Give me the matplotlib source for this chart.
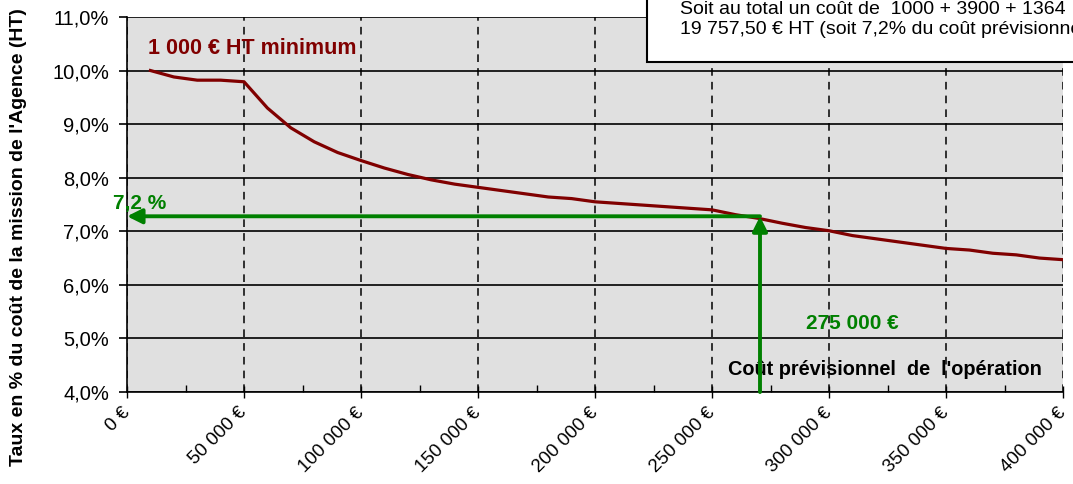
import matplotlib
matplotlib.use("Agg")
import matplotlib.pyplot as plt
from matplotlib.ticker import MultipleLocator, FuncFormatter
from matplotlib.patches import Rectangle

plt.rcParams['font.family'] = ['Liberation Sans', 'DejaVu Sans']

# montant des travaux (€) et taux de la mission (%)
cout = [10000, 20000, 30000, 40000, 50000, 60000, 70000, 80000, 90000, 100000,
        110000, 120000, 130000, 140000, 150000, 160000, 170000, 180000, 190000, 200000,
        210000, 220000, 230000, 240000, 250000, 260000, 270000, 280000, 290000, 300000,
        310000, 320000, 330000, 340000, 350000, 360000, 370000, 380000, 390000, 400000]
taux = [10.00, 9.88, 9.82, 9.82, 9.79, 9.30, 8.93, 8.67, 8.47, 8.32,
        8.18, 8.06, 7.96, 7.88, 7.82, 7.76, 7.70, 7.64, 7.61, 7.55,
        7.52, 7.49, 7.46, 7.43, 7.40, 7.31, 7.24, 7.15, 7.07, 7.01,
        6.92, 6.86, 6.80, 6.74, 6.68, 6.65, 6.59, 6.56, 6.50, 6.47]

# lecture de l'exemple
x_lecture = 270500
y_lecture = 7.28

red = '#800000'
green = '#008000'

fig = plt.figure(figsize=(10.73, 4.84), dpi=100)
ax = fig.add_axes([0.1184, 0.190, 0.8723, 0.775])
ax.set_facecolor('#e0e0e0')

ax.plot(cout, taux, color=red, lw=2.3, zorder=3)

ax.set_xlim(0, 400000)
ax.set_ylim(4, 11)
ax.xaxis.set_major_locator(MultipleLocator(50000))
ax.xaxis.set_minor_locator(MultipleLocator(25000))
ax.yaxis.set_major_locator(MultipleLocator(1))

ax.xaxis.set_major_formatter(FuncFormatter(lambda v, p: f"{int(v):,} €".replace(',', ' ')))
ax.yaxis.set_major_formatter(FuncFormatter(lambda v, p: f"{v:.1f}%".replace('.', ',')))

ax.grid(axis='y', color='black', lw=1.2, ls='-', zorder=1)
ax.grid(axis='x', color='black', lw=1.1, ls=(0, (5, 4)), zorder=1)
ax.set_axisbelow(True)

for s in ['top', 'right']:
    ax.spines[s].set_visible(False)
ax.spines['left'].set_linewidth(1.2)
ax.spines['bottom'].set_linewidth(1.2)

ax.tick_params(axis='y', direction='out', length=6, width=1.2, labelsize=14.5, pad=7)
ax.tick_params(axis='x', which='major', direction='inout', length=8, width=1, labelsize=13.5, pad=9)
ax.tick_params(axis='x', which='minor', direction='in', length=5, width=1)
for lab in ax.get_xticklabels():
    lab.set_rotation(45)
    lab.set_ha('right')
    lab.set_va('center')
    lab.set_rotation_mode('anchor')

# flèches vertes
ax.annotate('', xy=(x_lecture, y_lecture), xytext=(x_lecture, 4),
            arrowprops=dict(arrowstyle='-|>', color=green, lw=2.8, mutation_scale=22,
                            shrinkA=0, shrinkB=0), zorder=4)
ax.annotate('', xy=(0, y_lecture), xytext=(x_lecture, y_lecture),
            arrowprops=dict(arrowstyle='-|>', color=green, lw=2.8, mutation_scale=22,
                            shrinkA=0, shrinkB=0), zorder=4, annotation_clip=False)

ax.text(9000, 10.42, '1 000 € HT minimum', color=red, fontsize=15.5, fontweight='bold', va='center')
ax.text(-5800, 7.52, '7,2 %', color=green, fontsize=15, fontweight='bold', va='center')
ax.text(290000, 5.28, '275 000 €', color=green, fontsize=15, fontweight='bold', va='center')
ax.text(257000, 4.42, "Coût prévisionnel  de  l'opération", color='black', fontsize=14.3,
        fontweight='bold', va='center')

fig.text(0.017, 1 - 237 / 484, "Taux en % du coût de la mission de l'Agence (HT)",
         rotation=90, fontsize=14, fontweight='bold', ha='center', va='center')

# encadré
fig.add_artist(Rectangle((647 / 1073, 1 - 62 / 484), 0.45, 0.2, transform=fig.transFigure,
                         facecolor='white', edgecolor='black', lw=1.5, zorder=10))
fig.text(680 / 1073, 1 - 10 / 484, "Soit au total un coût de  1000 + 3900 + 1364",
         fontsize=14, va='center', zorder=11)
fig.text(680 / 1073, 1 - 30 / 484, "19 757,50 € HT (soit 7,2% du coût prévisionnel",
         fontsize=14, va='center', zorder=11)

fig.savefig('out.png', dpi=100)
